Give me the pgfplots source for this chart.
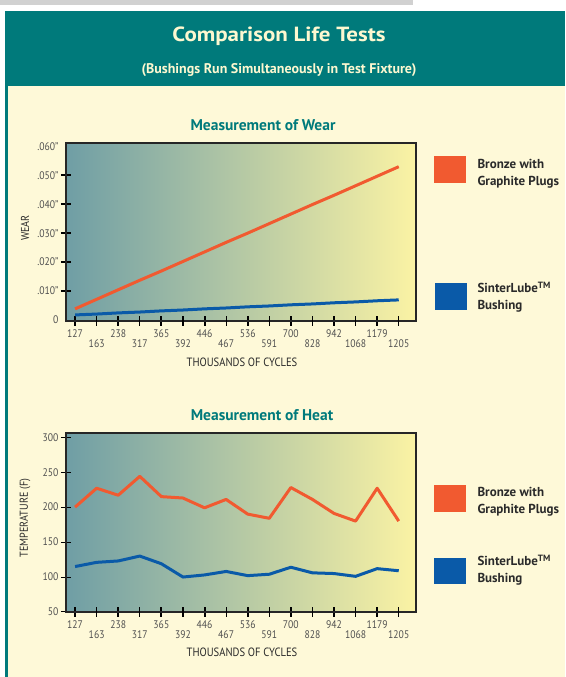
\documentclass[border=0pt]{standalone}
\usepackage{fontspec}
\setmainfont{PT Sans}
\newfontfamily\narrowfont{PT Sans}[FakeStretch=0.88]
\newfontfamily\widefont{PT Sans}[FakeStretch=1.12]
\usepackage{pgfplots}
\pgfplotsset{compat=1.18}

\definecolor{teal}{HTML}{007A7B}
\definecolor{cream}{HTML}{FEF9D8}
\definecolor{bronze}{HTML}{F15A30}
\definecolor{sinter}{HTML}{0A5AA8}
\definecolor{bgleft}{HTML}{6F9EA5}
\definecolor{bgmid}{HTML}{A8C2AE}
\definecolor{bgright}{HTML}{FBF3A4}
\definecolor{ticktext}{HTML}{505050}
\definecolor{labeltext}{HTML}{2A2A2A}
\definecolor{titletext}{HTML}{FDF8D0}

\pgfplotsset{
  lifetest/.style={
    scale only axis,
    width=350pt,
    xmin=-0.42, xmax=15.8,
    /pgf/number format/assume math mode=true,
    axis line style={line width=1.1pt, black!85},
    axis background/.style={left color=bgleft, middle color=bgmid, right color=bgright},
    tick align=center,
    xtick pos=bottom, ytick pos=left,
    xtick={0,2,...,14},
    xticklabels={127,238,365,446,536,700,942,1179},
    extra x ticks={1,3,...,15},
    extra x tick labels={163,317,392,467,591,828,1068,1205},
    major tick length=10pt,
    xtick style={line width=2pt, black},
    extra x tick style={
      xtick style={line width=1.2pt, black},
      xticklabel style={yshift=-10pt}},
    tick label style={font=\narrowfont\fontsize{11}{12}\selectfont, text=ticktext},
    xticklabel style={yshift=0pt},
    yticklabel style={xshift=1pt},
    clip=false,
  },
  bronzeline/.style={color=bronze, line width=3pt, line join=round, mark=none},
  sinterline/.style={color=sinter, line width=3pt, line join=round, mark=none},
}

\begin{document}
\begin{tikzpicture}
\path[use as bounding box] (0pt,0pt) rectangle (565pt,677pt);
% page frame
\fill[black!18] (0pt,672pt) rectangle (413pt,677pt);
\fill[teal] (5pt,591pt) rectangle (565pt,666pt);
\fill[cream] (5pt,0pt) rectangle (565pt,591pt);
\fill[teal] (5pt,0pt) rectangle (8pt,591pt);

\node[text=titletext, font=\widefont\bfseries\fontsize{20.5}{22}\selectfont] at (279pt,641pt) {Comparison Life Tests};
\node[text=titletext, font=\bfseries\fontsize{14}{15}\selectfont] at (279pt,607pt) {(Bushings Run Simultaneously in Test Fixture)};

% ---------------- wear ----------------
\node[text=teal, font=\bfseries\fontsize{15.5}{17}\selectfont] at (263pt,552pt) {Measurement of Wear};
\begin{axis}[lifetest,
    at={(66pt,356pt)}, anchor=south west,
    height=178pt,
    ymin=-0.0004, ymax=0.0612,
    scaled y ticks=false,
    ytick={0.01,0.02,...,0.05},
    yticklabels={.010”,.020”,.030”,.040”,.050”},
    extra y ticks={0,0.06},
    extra y tick labels={0,.060”},
    extra y tick style={ytick style={draw=none}},
    ytick style={line width=2pt, black},
  ]
\addplot[bronzeline] coordinates {
  (0,0.0038)(1,0.0071)(2,0.0104)(3,0.0137)(4,0.0169)(5,0.0202)(6,0.0235)(7,0.0268)
  (8,0.0300)(9,0.0333)(10,0.0366)(11,0.0399)(12,0.0431)(13,0.0464)(14,0.0497)(15,0.0530)};
\addplot[sinterline] coordinates {
  (0,0.0017)(1,0.0020)(2,0.0024)(3,0.0027)(4,0.0031)(5,0.0034)(6,0.0038)(7,0.0041)
  (8,0.0045)(9,0.0048)(10,0.0052)(11,0.0055)(12,0.0059)(13,0.0062)(14,0.0066)(15,0.0069)};
\end{axis}
\node[rotate=90, text=labeltext, font=\narrowfont\fontsize{11.5}{12}\selectfont] at (25pt,449pt) {WEAR};
\node[text=labeltext, font=\narrowfont\fontsize{12}{13}\selectfont] at (242pt,315pt) {THOUSANDS OF CYCLES};

% legend (wear)
\fill[bronze] (434pt,494pt) rectangle (466pt,521pt);
\node[anchor=west, align=left, text=labeltext, font=\bfseries\fontsize{13}{17}\selectfont] at (474pt,503pt) {Bronze with\\Graphite Plugs};
\fill[sinter] (435pt,367pt) rectangle (467pt,394pt);
\node[anchor=west, align=left, text=labeltext, font=\bfseries\fontsize{13}{17}\selectfont] at (474pt,380pt) {SinterLube\textsuperscript{TM}\\Bushing};

% ---------------- heat ----------------
\node[text=teal, font=\bfseries\fontsize{15.5}{17}\selectfont] at (262pt,262pt) {Measurement of Heat};
\begin{axis}[lifetest,
    at={(66pt,65pt)}, anchor=south west,
    height=179pt,
    ymin=50, ymax=306,
    ytick={50,100,...,300},
    ytick style={line width=1pt, black},
  ]
\addplot[bronzeline] coordinates {
  (0,200)(1,227)(2,217)(3,244)(4,215)(5,213)(6,199)(7,211)
  (8,190)(9,184)(10,228)(11,211)(12,191)(13,180)(14,227)(15,180)};
\addplot[sinterline] coordinates {
  (0,115)(1,121)(2,123)(3,130)(4,119)(5,100)(6,103)(7,108)
  (8,102)(9,104)(10,114)(11,106)(12,105)(13,101)(14,112)(15,109)};
\end{axis}
\node[rotate=90, text=labeltext, font=\narrowfont\fontsize{11.5}{12}\selectfont] at (25pt,159pt) {TEMPERATURE (F)};
\node[text=labeltext, font=\narrowfont\fontsize{12}{13}\selectfont] at (242pt,25pt) {THOUSANDS OF CYCLES};

% legend (heat)
\fill[bronze] (434pt,165pt) rectangle (466pt,192pt);
\node[anchor=west, align=left, text=labeltext, font=\bfseries\fontsize{13}{17}\selectfont] at (474pt,175pt) {Bronze with\\Graphite Plugs};
\fill[sinter] (434pt,93pt) rectangle (466pt,119pt);
\node[anchor=west, align=left, text=labeltext, font=\bfseries\fontsize{13}{17}\selectfont] at (474pt,107pt) {SinterLube\textsuperscript{TM}\\Bushing};
\end{tikzpicture}
\end{document}
